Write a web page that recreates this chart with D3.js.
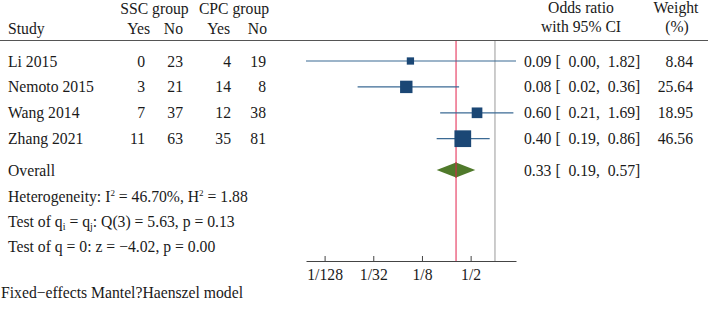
<!DOCTYPE html>
<html>
<head>
<meta charset="utf-8">
<script src="https://cdn.jsdelivr.net/npm/d3@7"></script>
<style>
  body { margin: 0; background: #fff; }
  svg text { font-family: "Liberation Serif", "Times New Roman", serif; font-size: 15.7px; fill: #1a1a1a; }
</style>
</head>
<body>
<div id="chart"></div>
<script>
// study rows
const studies = ["Li 2015", "Nemoto 2015", "Wang 2014", "Zhang 2021"];
const sscYes = [0, 3, 7, 11];
const sscNo = [23, 21, 37, 63];
const cpcYes = [4, 14, 12, 35];
const cpcNo = [19, 8, 38, 81];
const orEst = [0.09, 0.08, 0.60, 0.40];
const ciLow = [0.0046, 0.02, 0.21, 0.19];
const ciHigh = [1.82, 0.36, 1.69, 0.86];
const ciLowLabel = ["0.00", "0.02", "0.21", "0.19"];
const weights = [8.84, 25.64, 18.95, 46.56];

// overall
const overall = { est: 0.33, low: 0.19, high: 0.57 };
const tickValues = [1 / 128, 1 / 32, 1 / 8, 1 / 2];
const tickLabels = ["1/128", "1/32", "1/8", "1/2"];

const W = 708, H = 309;
const svg = d3.select("#chart").append("svg")
  .attr("width", W).attr("height", H);

let x = d3.scaleLog().base(2)
  .domain([d3.min(ciLow), d3.max(ciHigh)])
  .range([306, 516]);

// overall row sits a bit lower than the even spacing
let rowY = (name, i) => name === "Overall" ? 170 : 61 + i * 25.9;

let sq = d3.scaleSqrt().domain([0, 100]).range([0, 24.5]);

let fmt = d3.format(".2f");

// header
let hdr = svg.append("g");
hdr.append("text").attr("x", 154.5).attr("y", 13.5).attr("text-anchor", "middle").text("SSC group");
hdr.append("text").attr("x", 234).attr("y", 13.5).attr("text-anchor", "middle").text("CPC group");
hdr.append("text").attr("x", 8).attr("y", 33.5).text("Study");
[[150, "Yes"], [183, "No"], [230, "Yes"], [267, "No"]].forEach(d => {
  hdr.append("text").attr("x", d[0]).attr("y", 33.5).attr("text-anchor", "end").text(d[1]);
});
hdr.append("text").attr("x", 581).attr("y", 13).attr("text-anchor", "middle").text("Odds ratio");
hdr.append("text").attr("x", 581).attr("y", 32).attr("text-anchor", "middle").text("with 95% CI");
hdr.append("text").attr("x", 676).attr("y", 13).attr("text-anchor", "middle").text("Weight");
hdr.append("text").attr("x", 677).attr("y", 32).attr("text-anchor", "middle").text("(%)");

svg.append("line").attr("x1", 0).attr("x2", W).attr("y1", 40.5).attr("y2", 40.5)
  .attr("stroke", "#555").attr("stroke-width", 1);

// reference lines
svg.append("line").attr("x1", x(1)).attr("x2", x(1)).attr("y1", 41).attr("y2", 261)
  .attr("stroke", "#9a9a9a").attr("stroke-width", 1);
svg.append("line").attr("x1", x(overall.est)).attr("x2", x(overall.est)).attr("y1", 41).attr("y2", 261)
  .attr("stroke", "#e3204b").attr("stroke-width", 1);

// study rows
studies.forEach((s, i) => {
  let y = rowY(s, i);
  let g = svg.append("g");
  g.append("text").attr("x", 8).attr("y", y + 5.5).text(s);
  [[145, sscYes[i]], [183, sscNo[i]], [231, cpcYes[i]], [266, cpcNo[i]]].forEach(d => {
    g.append("text").attr("x", d[0]).attr("y", y + 5.5).attr("text-anchor", "end").text(d[1]);
  });
  g.append("line").attr("x1", x(ciLow[i])).attr("x2", x(ciHigh[i]))
    .attr("y1", y).attr("y2", y).attr("stroke", "#3b6a94").attr("stroke-width", 1.2);
  let side = sq(weights[i]);
  g.append("rect").attr("x", x(orEst[i]) - side / 2).attr("y", y - side / 2)
    .attr("width", side).attr("height", side).attr("fill", "#1b4775");
  g.append("text").attr("x", 524).attr("y", y + 5.5)
    .attr("xml:space", "preserve")
    .text(fmt(orEst[i]) + " [  " + ciLowLabel[i] + ",  " + fmt(ciHigh[i]) + "]");
  g.append("text").attr("x", 693).attr("y", y + 5.5).attr("text-anchor", "end").text(fmt(weights[i]));
});

// overall
let oy = rowY("Overall");
svg.append("text").attr("x", 8).attr("y", oy + 5.5).text("Overall");
svg.append("path")
  .attr("d", "M" + x(overall.low) + "," + oy + "L" + x(overall.est) + "," + (oy - 7.5) +
    "L" + x(overall.high) + "," + oy + "L" + x(overall.est) + "," + (oy + 7.5) + "Z")
  .attr("fill", "#507a2b");
svg.append("line").attr("x1", x(overall.est)).attr("x2", x(overall.est)).attr("y1", oy - 8).attr("y2", oy + 8)
  .attr("stroke", "#e3204b").attr("stroke-width", 1);
svg.append("text").attr("x", 524).attr("y", oy + 5.5).attr("xml:space", "preserve")
  .text(fmt(overall.est) + " [  " + fmt(overall.low) + ",  " + fmt(overall.high) + "]");

// stats text
let t1 = svg.append("text").attr("x", 8).attr("y", 201.5);
t1.append("tspan").text("Heterogeneity: I");
t1.append("tspan").attr("dy", -6).attr("font-size", 9).text("2");
t1.append("tspan").attr("dy", 6).text(" = 46.70%, H");
t1.append("tspan").attr("dy", -6).attr("font-size", 9).text("2");
t1.append("tspan").attr("dy", 6).text(" = 1.88");

let t2 = svg.append("text").attr("x", 8).attr("y", 226.5);
t2.append("tspan").text("Test of q");
t2.append("tspan").attr("dy", 3).attr("font-size", 10).text("i");
t2.append("tspan").attr("dy", -3).text(" = q");
t2.append("tspan").attr("dy", 3).attr("font-size", 10).text("j");
t2.append("tspan").attr("dy", -3).text(": Q(3) = 5.63, p = 0.13");

svg.append("text").attr("x", 8).attr("y", 251.5).text("Test of q = 0: z = \u22124.02, p = 0.00");

svg.append("text").attr("x", 1).attr("y", 298).text("Fixed\u2212effects Mantel?Haenszel model");

// axis
let axis = d3.axisBottom(x).tickValues(tickValues).tickFormat((d, i) => tickLabels[i]).tickSize(5).tickSizeOuter(0);
let ag = svg.append("g").attr("transform", "translate(0,261)").call(axis);
ag.attr("font-family", null).attr("font-size", null);
ag.select(".domain").attr("stroke", "#444");
ag.selectAll(".tick line").attr("stroke", "#444").attr("transform", "translate(0,-5)");
ag.selectAll(".tick text").attr("dy", null).attr("y", 19).style("fill", "#1a1a1a");
</script>
</body>
</html>
